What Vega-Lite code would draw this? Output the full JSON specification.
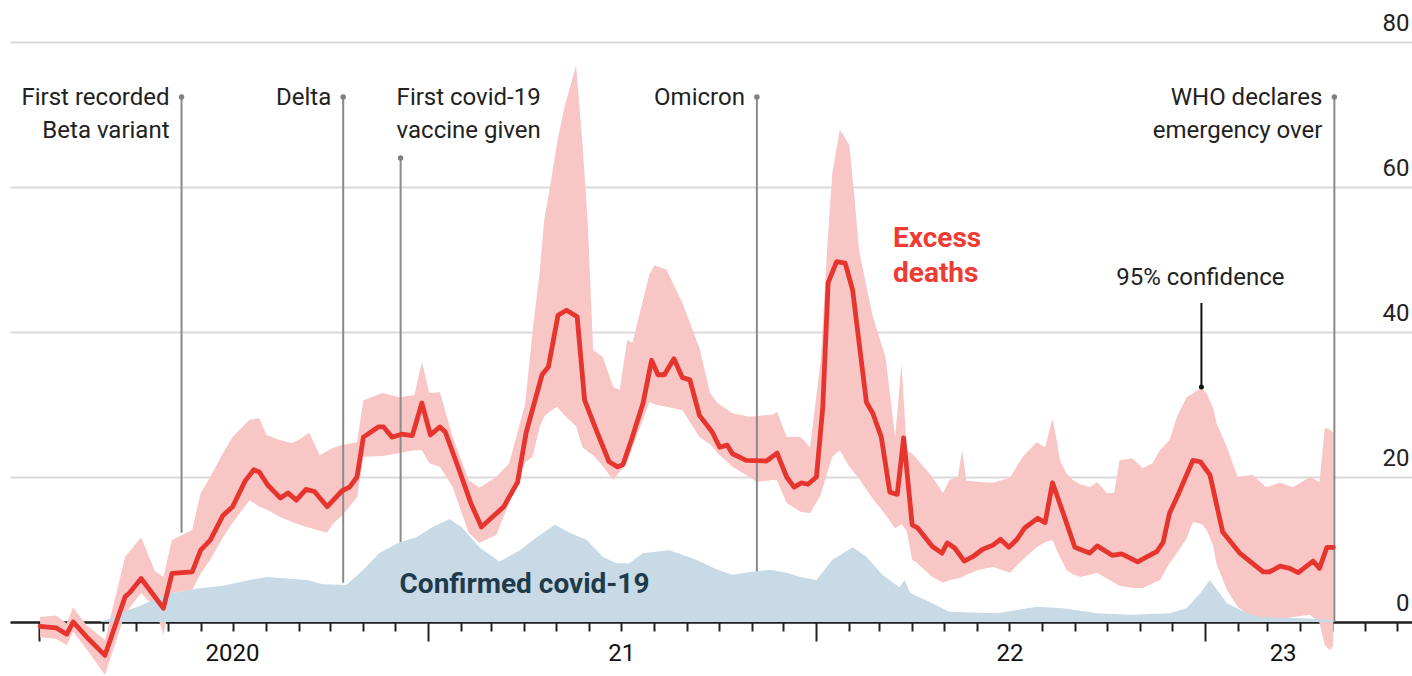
{
  "$schema": "https://vega.github.io/schema/vega-lite/v6.json",
  "width": 1402,
  "height": 676,
  "autosize": {"type": "none"},
  "padding": {"left": 10, "top": 0, "right": 0, "bottom": 0},
  "background": "white",
  "config": {"view": {"stroke": null}, "text": {"font": "Roboto"}},
  "datasets": {
    "excess": [
      {"date": "2020-01-02", "value": -0.6}, {"date": "2020-01-17", "value": -0.8}, {"date": "2020-01-27", "value": -1.7},
      {"date": "2020-02-02", "value": 0.0}, {"date": "2020-02-15", "value": -2.1}, {"date": "2020-03-03", "value": -4.6},
      {"date": "2020-03-22", "value": 3.5}, {"date": "2020-03-26", "value": 4.0}, {"date": "2020-04-06", "value": 6.0},
      {"date": "2020-04-27", "value": 1.9}, {"date": "2020-05-05", "value": 6.7}, {"date": "2020-05-24", "value": 6.9},
      {"date": "2020-06-01", "value": 9.9}, {"date": "2020-06-10", "value": 11.3}, {"date": "2020-06-22", "value": 14.7},
      {"date": "2020-07-01", "value": 15.9}, {"date": "2020-07-13", "value": 19.5}, {"date": "2020-07-21", "value": 21.0},
      {"date": "2020-07-26", "value": 20.7}, {"date": "2020-08-03", "value": 18.9}, {"date": "2020-08-15", "value": 17.1},
      {"date": "2020-08-22", "value": 17.8}, {"date": "2020-08-30", "value": 16.8}, {"date": "2020-09-08", "value": 18.3},
      {"date": "2020-09-16", "value": 18.0}, {"date": "2020-09-28", "value": 15.9}, {"date": "2020-10-12", "value": 18.1},
      {"date": "2020-10-19", "value": 18.6}, {"date": "2020-10-26", "value": 20.0}, {"date": "2020-11-01", "value": 25.5},
      {"date": "2020-11-15", "value": 26.9}, {"date": "2020-11-20", "value": 26.9}, {"date": "2020-11-28", "value": 25.5},
      {"date": "2020-12-07", "value": 25.9}, {"date": "2020-12-17", "value": 25.7}, {"date": "2020-12-26", "value": 30.2},
      {"date": "2021-01-03", "value": 25.8}, {"date": "2021-01-12", "value": 26.9}, {"date": "2021-01-17", "value": 26.2},
      {"date": "2021-01-30", "value": 21.0}, {"date": "2021-02-10", "value": 16.4}, {"date": "2021-02-20", "value": 13.1},
      {"date": "2021-03-01", "value": 14.3}, {"date": "2021-03-13", "value": 15.9}, {"date": "2021-03-26", "value": 19.3},
      {"date": "2021-04-03", "value": 26.1}, {"date": "2021-04-18", "value": 34.1}, {"date": "2021-04-24", "value": 35.2},
      {"date": "2021-05-03", "value": 42.3}, {"date": "2021-05-11", "value": 43.0}, {"date": "2021-05-21", "value": 42.1},
      {"date": "2021-05-28", "value": 30.6}, {"date": "2021-06-09", "value": 26.1}, {"date": "2021-06-20", "value": 22.1},
      {"date": "2021-06-28", "value": 21.4}, {"date": "2021-07-03", "value": 21.7}, {"date": "2021-07-11", "value": 25.1},
      {"date": "2021-07-22", "value": 30.2}, {"date": "2021-07-30", "value": 36.1}, {"date": "2021-08-05", "value": 34.1},
      {"date": "2021-08-11", "value": 34.1}, {"date": "2021-08-20", "value": 36.3}, {"date": "2021-08-28", "value": 33.7},
      {"date": "2021-09-04", "value": 33.4}, {"date": "2021-09-13", "value": 28.5}, {"date": "2021-09-25", "value": 26.2},
      {"date": "2021-10-02", "value": 24.1}, {"date": "2021-10-09", "value": 24.4}, {"date": "2021-10-14", "value": 23.2},
      {"date": "2021-10-27", "value": 22.3}, {"date": "2021-11-15", "value": 22.2}, {"date": "2021-11-25", "value": 23.3},
      {"date": "2021-12-04", "value": 20.0}, {"date": "2021-12-11", "value": 18.6}, {"date": "2021-12-18", "value": 19.2},
      {"date": "2021-12-24", "value": 19.0}, {"date": "2022-01-01", "value": 20.0}, {"date": "2022-01-07", "value": 29.7},
      {"date": "2022-01-12", "value": 46.8}, {"date": "2022-01-20", "value": 49.7}, {"date": "2022-01-28", "value": 49.5},
      {"date": "2022-02-04", "value": 45.8}, {"date": "2022-02-17", "value": 30.3}, {"date": "2022-02-23", "value": 28.8},
      {"date": "2022-03-03", "value": 25.5}, {"date": "2022-03-11", "value": 17.9}, {"date": "2022-03-18", "value": 17.6},
      {"date": "2022-03-24", "value": 25.4}, {"date": "2022-04-01", "value": 13.4}, {"date": "2022-04-06", "value": 13.0},
      {"date": "2022-04-20", "value": 10.4}, {"date": "2022-04-29", "value": 9.5}, {"date": "2022-05-04", "value": 10.9},
      {"date": "2022-05-11", "value": 10.2}, {"date": "2022-05-20", "value": 8.4}, {"date": "2022-05-28", "value": 9.0},
      {"date": "2022-06-06", "value": 10.0}, {"date": "2022-06-16", "value": 10.6}, {"date": "2022-06-23", "value": 11.4},
      {"date": "2022-07-01", "value": 10.3}, {"date": "2022-07-08", "value": 11.3}, {"date": "2022-07-16", "value": 13.0},
      {"date": "2022-07-28", "value": 14.3}, {"date": "2022-08-04", "value": 13.7}, {"date": "2022-08-11", "value": 19.2},
      {"date": "2022-08-21", "value": 15.0}, {"date": "2022-09-01", "value": 10.3}, {"date": "2022-09-08", "value": 9.9},
      {"date": "2022-09-15", "value": 9.5}, {"date": "2022-09-22", "value": 10.5}, {"date": "2022-10-06", "value": 9.2},
      {"date": "2022-10-15", "value": 9.4}, {"date": "2022-10-30", "value": 8.3}, {"date": "2022-11-08", "value": 9.0},
      {"date": "2022-11-17", "value": 9.7}, {"date": "2022-11-23", "value": 11.0}, {"date": "2022-11-29", "value": 15.0},
      {"date": "2022-12-06", "value": 17.2}, {"date": "2022-12-21", "value": 22.3}, {"date": "2022-12-28", "value": 22.1},
      {"date": "2023-01-06", "value": 20.3}, {"date": "2023-01-18", "value": 12.4}, {"date": "2023-02-03", "value": 9.5},
      {"date": "2023-02-25", "value": 6.9}, {"date": "2023-03-03", "value": 6.9}, {"date": "2023-03-13", "value": 7.7},
      {"date": "2023-03-22", "value": 7.4}, {"date": "2023-03-30", "value": 6.8}, {"date": "2023-04-13", "value": 8.4},
      {"date": "2023-04-19", "value": 7.4}, {"date": "2023-04-26", "value": 10.3}, {"date": "2023-05-02", "value": 10.3}
    ],
    "band": [
      {"date": "2020-01-02", "lower": -2.1, "upper": 0.7}, {"date": "2020-01-17", "lower": -2.3, "upper": 0.9},
      {"date": "2020-01-27", "lower": -3.2, "upper": -0.2}, {"date": "2020-02-02", "lower": -1.3, "upper": 2.0},
      {"date": "2020-02-15", "lower": -3.8, "upper": -0.5}, {"date": "2020-03-03", "lower": -7.3, "upper": -2.5},
      {"date": "2020-03-22", "lower": 1.2, "upper": 9.0}, {"date": "2020-04-06", "lower": 4.0, "upper": 11.7},
      {"date": "2020-04-19", "lower": 2.0, "upper": 7.0}, {"date": "2020-04-27", "lower": -1.8, "upper": 6.2},
      {"date": "2020-05-05", "lower": 4.0, "upper": 11.3}, {"date": "2020-05-24", "lower": 4.4, "upper": 12.7},
      {"date": "2020-06-01", "lower": 6.7, "upper": 17.8}, {"date": "2020-06-10", "lower": 8.6, "upper": 20.0},
      {"date": "2020-06-22", "lower": 11.7, "upper": 23.3}, {"date": "2020-07-01", "lower": 13.7, "upper": 25.5},
      {"date": "2020-07-17", "lower": 16.8, "upper": 27.9}, {"date": "2020-07-26", "lower": 15.9, "upper": 28.1},
      {"date": "2020-08-02", "lower": 15.5, "upper": 25.8}, {"date": "2020-08-14", "lower": 14.5, "upper": 25.1},
      {"date": "2020-08-26", "lower": 13.8, "upper": 24.7}, {"date": "2020-09-02", "lower": 13.4, "upper": 25.2},
      {"date": "2020-09-11", "lower": 13.0, "upper": 26.1}, {"date": "2020-09-21", "lower": 12.6, "upper": 23.0},
      {"date": "2020-09-28", "lower": 12.3, "upper": 23.6}, {"date": "2020-10-03", "lower": 13.5, "upper": 24.0},
      {"date": "2020-10-12", "lower": 14.7, "upper": 24.4}, {"date": "2020-10-26", "lower": 17.2, "upper": 24.8},
      {"date": "2020-11-01", "lower": 22.8, "upper": 30.6}, {"date": "2020-11-19", "lower": 22.9, "upper": 31.6},
      {"date": "2020-12-05", "lower": 23.3, "upper": 31.0}, {"date": "2020-12-19", "lower": 23.7, "upper": 31.3},
      {"date": "2020-12-26", "lower": 23.7, "upper": 35.9}, {"date": "2021-01-02", "lower": 21.9, "upper": 31.6},
      {"date": "2021-01-12", "lower": 21.4, "upper": 31.7}, {"date": "2021-01-24", "lower": 18.6, "upper": 25.5},
      {"date": "2021-02-08", "lower": 12.3, "upper": 19.6}, {"date": "2021-02-18", "lower": 10.9, "upper": 18.5},
      {"date": "2021-03-06", "lower": 12.0, "upper": 20.0}, {"date": "2021-03-18", "lower": 16.4, "upper": 21.9},
      {"date": "2021-04-02", "lower": 22.0, "upper": 30.0}, {"date": "2021-04-09", "lower": 22.8, "upper": 39.9},
      {"date": "2021-04-16", "lower": 27.0, "upper": 48.6}, {"date": "2021-04-20", "lower": 28.3, "upper": 55.4},
      {"date": "2021-04-25", "lower": 29.0, "upper": 59.6}, {"date": "2021-05-02", "lower": 29.7, "upper": 66.0},
      {"date": "2021-05-09", "lower": 28.5, "upper": 71.0}, {"date": "2021-05-20", "lower": 27.0, "upper": 76.8},
      {"date": "2021-05-26", "lower": 24.1, "upper": 66.0}, {"date": "2021-05-31", "lower": 23.5, "upper": 55.0},
      {"date": "2021-06-05", "lower": 23.0, "upper": 37.5}, {"date": "2021-06-14", "lower": 21.5, "upper": 36.6},
      {"date": "2021-06-24", "lower": 19.6, "upper": 32.4}, {"date": "2021-06-30", "lower": 20.7, "upper": 32.0},
      {"date": "2021-07-07", "lower": 22.0, "upper": 38.9}, {"date": "2021-07-12", "lower": 24.1, "upper": 38.5},
      {"date": "2021-07-22", "lower": 28.0, "upper": 44.4}, {"date": "2021-07-28", "lower": 30.3, "upper": 48.0},
      {"date": "2021-08-02", "lower": 30.0, "upper": 49.2}, {"date": "2021-08-13", "lower": 29.7, "upper": 48.6},
      {"date": "2021-08-28", "lower": 29.2, "upper": 44.0}, {"date": "2021-09-13", "lower": 25.5, "upper": 37.8},
      {"date": "2021-09-23", "lower": 24.5, "upper": 31.6}, {"date": "2021-09-30", "lower": 23.3, "upper": 30.2},
      {"date": "2021-10-14", "lower": 21.4, "upper": 28.8}, {"date": "2021-10-30", "lower": 20.0, "upper": 28.3},
      {"date": "2021-11-06", "lower": 19.3, "upper": 28.4}, {"date": "2021-11-21", "lower": 19.6, "upper": 28.6},
      {"date": "2021-11-25", "lower": 19.5, "upper": 29.0}, {"date": "2021-12-04", "lower": 16.4, "upper": 25.5},
      {"date": "2021-12-17", "lower": 15.2, "upper": 25.5}, {"date": "2021-12-26", "lower": 15.0, "upper": 24.1},
      {"date": "2022-01-05", "lower": 17.5, "upper": 36.1}, {"date": "2022-01-11", "lower": 20.5, "upper": 51.3},
      {"date": "2022-01-16", "lower": 22.8, "upper": 62.0}, {"date": "2022-01-23", "lower": 23.7, "upper": 67.9},
      {"date": "2022-02-01", "lower": 21.4, "upper": 65.8}, {"date": "2022-02-06", "lower": 20.5, "upper": 58.2},
      {"date": "2022-02-10", "lower": 19.8, "upper": 51.3}, {"date": "2022-02-23", "lower": 17.0, "upper": 42.1},
      {"date": "2022-03-07", "lower": 14.8, "upper": 36.6}, {"date": "2022-03-16", "lower": 12.9, "upper": 25.5},
      {"date": "2022-03-22", "lower": 13.5, "upper": 35.7}, {"date": "2022-03-27", "lower": 12.5, "upper": 23.7},
      {"date": "2022-04-01", "lower": 8.6, "upper": 23.2}, {"date": "2022-04-05", "lower": 8.2, "upper": 22.6},
      {"date": "2022-04-20", "lower": 6.2, "upper": 20.0}, {"date": "2022-04-30", "lower": 5.4, "upper": 17.8},
      {"date": "2022-05-06", "lower": 5.8, "upper": 19.6}, {"date": "2022-05-14", "lower": 6.0, "upper": 20.0},
      {"date": "2022-05-18", "lower": 6.2, "upper": 23.7}, {"date": "2022-05-22", "lower": 6.5, "upper": 19.5},
      {"date": "2022-06-03", "lower": 7.2, "upper": 19.3}, {"date": "2022-06-16", "lower": 7.6, "upper": 19.2},
      {"date": "2022-07-02", "lower": 6.8, "upper": 19.9}, {"date": "2022-07-14", "lower": 8.6, "upper": 22.8},
      {"date": "2022-07-27", "lower": 10.3, "upper": 24.8}, {"date": "2022-08-04", "lower": 11.0, "upper": 24.1},
      {"date": "2022-08-11", "lower": 11.3, "upper": 28.1}, {"date": "2022-08-15", "lower": 9.9, "upper": 25.0},
      {"date": "2022-08-18", "lower": 9.0, "upper": 22.3}, {"date": "2022-08-24", "lower": 7.2, "upper": 20.5},
      {"date": "2022-08-30", "lower": 6.6, "upper": 19.6}, {"date": "2022-09-06", "lower": 6.2, "upper": 19.0},
      {"date": "2022-09-15", "lower": 6.5, "upper": 18.6}, {"date": "2022-09-22", "lower": 6.8, "upper": 19.3},
      {"date": "2022-10-01", "lower": 6.0, "upper": 17.8}, {"date": "2022-10-08", "lower": 5.4, "upper": 17.8},
      {"date": "2022-10-13", "lower": 5.0, "upper": 22.3}, {"date": "2022-10-25", "lower": 4.7, "upper": 22.6},
      {"date": "2022-11-04", "lower": 4.7, "upper": 21.2}, {"date": "2022-11-13", "lower": 5.3, "upper": 21.9},
      {"date": "2022-11-20", "lower": 5.8, "upper": 23.7}, {"date": "2022-11-29", "lower": 8.1, "upper": 25.1},
      {"date": "2022-12-06", "lower": 9.5, "upper": 28.3}, {"date": "2022-12-15", "lower": 11.5, "upper": 31.0},
      {"date": "2022-12-21", "lower": 13.8, "upper": 31.5}, {"date": "2022-12-29", "lower": 13.5, "upper": 32.3},
      {"date": "2023-01-03", "lower": 12.7, "upper": 31.5}, {"date": "2023-01-09", "lower": 10.5, "upper": 29.5},
      {"date": "2023-01-12", "lower": 8.1, "upper": 27.5}, {"date": "2023-01-22", "lower": 4.4, "upper": 24.1},
      {"date": "2023-02-01", "lower": 2.1, "upper": 20.0}, {"date": "2023-02-15", "lower": 0.6, "upper": 20.3},
      {"date": "2023-02-28", "lower": 0.0, "upper": 18.6}, {"date": "2023-03-13", "lower": 0.3, "upper": 19.2},
      {"date": "2023-03-25", "lower": 0.7, "upper": 18.6}, {"date": "2023-04-10", "lower": 1.0, "upper": 20.0},
      {"date": "2023-04-19", "lower": -0.1, "upper": 19.3}, {"date": "2023-04-24", "lower": -3.2, "upper": 26.8},
      {"date": "2023-04-29", "lower": -3.9, "upper": 26.5}, {"date": "2023-05-02", "lower": -3.2, "upper": 26.1}
    ],
    "confirmed": [
      {"date": "2020-01-02", "value": 0}, {"date": "2020-02-27", "value": 0}, {"date": "2020-03-09", "value": 0.5},
      {"date": "2020-03-22", "value": 1.5}, {"date": "2020-04-05", "value": 2.2}, {"date": "2020-04-28", "value": 3.8},
      {"date": "2020-05-28", "value": 4.6}, {"date": "2020-06-22", "value": 5.0}, {"date": "2020-07-17", "value": 5.8},
      {"date": "2020-08-02", "value": 6.2}, {"date": "2020-09-09", "value": 5.8}, {"date": "2020-09-24", "value": 5.2},
      {"date": "2020-10-16", "value": 5.1}, {"date": "2020-11-01", "value": 7.2}, {"date": "2020-11-16", "value": 9.5},
      {"date": "2020-12-05", "value": 11.0}, {"date": "2020-12-21", "value": 11.7}, {"date": "2021-01-05", "value": 13.1},
      {"date": "2021-01-21", "value": 14.2}, {"date": "2021-02-02", "value": 13.0}, {"date": "2021-02-18", "value": 10.3},
      {"date": "2021-03-09", "value": 8.3}, {"date": "2021-03-28", "value": 9.9}, {"date": "2021-04-13", "value": 11.7},
      {"date": "2021-04-30", "value": 13.4}, {"date": "2021-05-14", "value": 12.3}, {"date": "2021-05-30", "value": 11.3},
      {"date": "2021-06-14", "value": 9.0}, {"date": "2021-06-27", "value": 8.1}, {"date": "2021-07-09", "value": 8.1},
      {"date": "2021-07-22", "value": 9.5}, {"date": "2021-08-16", "value": 9.9}, {"date": "2021-09-10", "value": 8.6},
      {"date": "2021-09-30", "value": 7.2}, {"date": "2021-10-14", "value": 6.5}, {"date": "2021-10-30", "value": 6.9},
      {"date": "2021-11-18", "value": 7.2}, {"date": "2021-12-04", "value": 6.8}, {"date": "2021-12-17", "value": 6.2},
      {"date": "2022-01-01", "value": 5.8}, {"date": "2022-01-16", "value": 8.6}, {"date": "2022-02-04", "value": 10.3},
      {"date": "2022-02-17", "value": 9.0}, {"date": "2022-03-04", "value": 6.5}, {"date": "2022-03-20", "value": 4.8},
      {"date": "2022-03-25", "value": 5.8}, {"date": "2022-03-30", "value": 4.0}, {"date": "2022-04-20", "value": 2.6},
      {"date": "2022-05-06", "value": 1.4}, {"date": "2022-06-20", "value": 1.2}, {"date": "2022-07-27", "value": 2.1},
      {"date": "2022-08-21", "value": 1.9}, {"date": "2022-09-22", "value": 1.2}, {"date": "2022-10-23", "value": 1.0},
      {"date": "2022-11-29", "value": 1.2}, {"date": "2022-12-15", "value": 1.9}, {"date": "2022-12-28", "value": 4.0},
      {"date": "2023-01-06", "value": 5.8}, {"date": "2023-01-22", "value": 2.6}, {"date": "2023-02-10", "value": 1.2},
      {"date": "2023-02-22", "value": 0.7}, {"date": "2023-04-19", "value": 0.4}, {"date": "2023-05-02", "value": 0.3}
    ],
    "events": [
      {"event": "Beta", "date": "2020-05-14", "top": 72.4, "bottom": 12.3, "texty": 71.3, "label": "First recorded\nBeta variant"},
      {"event": "Delta", "date": "2020-10-13", "top": 72.4, "bottom": 5.4, "texty": 71.3, "label": "Delta"},
      {"event": "Vaccine", "date": "2020-12-06", "top": 64.0, "bottom": 11.0, "texty": 71.3, "label": "First covid-19\nvaccine given"},
      {"event": "Omicron", "date": "2021-11-06", "top": 72.4, "bottom": 6.8, "texty": 71.3, "label": "Omicron"},
      {"event": "WHO", "date": "2023-05-03", "top": 72.4, "bottom": 0, "texty": 71.3, "label": "WHO declares\nemergency over"}
    ],
    "pointer": [
      {"date": "2022-12-29", "top": 44.0, "bottom": 32.4}
    ],
    "labels": [
      {"series": "excess", "date": "2022-03-14", "value": 51.7, "label": "Excess\ndeaths"},
      {"series": "confirmed", "date": "2020-12-05", "value": 4.0, "label": "Confirmed covid-19"},
      {"series": "band", "date": "2022-12-28", "value": 46.5, "label": "95% confidence"}
    ]
  },
  "encoding": {
    "x": {
      "field": "date",
      "type": "temporal",
      "scale": {
        "type": "utc",
        "domain": [
          {"year": 2019, "month": 12, "date": 4, "hours": 17, "utc": true},
          {"year": 2023, "month": 7, "date": 15, "utc": true}
        ]
      },
      "axis": {
        "title": null,
        "orient": "bottom",
        "offset": -54,
        "grid": false,
        "domain": true,
        "domainColor": "#222222",
        "domainWidth": 2.5,
        "ticks": true,
        "tickColor": "#222222",
        "tickWidth": 2,
        "tickSize": {"condition": {"test": "utcmonth(datum.value) === 0", "value": 19}, "value": 9},
        "tickCount": {"interval": "month", "step": 1},
        "labelExpr": "utcmonth(datum.value) === 0 ? (utcyear(datum.value) === 2020 ? '2020' : utcFormat(datum.value, '%y')) : ''",
        "labelOffset": {"condition": {"test": "utcyear(datum.value) === 2023", "value": 78}, "value": 193},
        "labelPadding": 0,
        "labelAlign": "center",
        "labelBaseline": "top",
        "labelFont": "Roboto",
        "labelFontSize": 24,
        "labelColor": "#111111",
        "labelOverlap": false,
        "labelBound": false,
        "labelFlush": false
      }
    },
    "y": {
      "field": "value",
      "type": "quantitative",
      "scale": {"domain": [-7.45, 85.79], "nice": false, "zero": false},
      "axis": {
        "title": null,
        "orient": "right",
        "values": [0, 20, 40, 60, 80],
        "grid": true,
        "gridColor": "#dadada",
        "gridWidth": 2,
        "domain": false,
        "ticks": false,
        "tickSize": 0,
        "labelAlign": "right",
        "labelBaseline": "alphabetic",
        "labelPadding": -3,
        "labelOffset": -11,
        "labelFont": "Roboto",
        "labelFontSize": 24,
        "labelColor": "#222222"
      }
    }
  },
  "layer": [
    {
      "data": {"name": "band"},
      "mark": {"type": "area", "color": "#f9c6c6", "opacity": 1},
      "encoding": {
        "y": {
          "field": "lower",
          "type": "quantitative",
          "scale": {"domain": [-7.45, 85.79], "nice": false, "zero": false},
          "axis": {
            "title": null,
            "orient": "right",
            "values": [0, 20, 40, 60, 80],
            "grid": true,
            "gridColor": "#dadada",
            "gridWidth": 2,
            "domain": false,
            "ticks": false,
            "tickSize": 0,
            "labelAlign": "right",
            "labelBaseline": "alphabetic",
            "labelPadding": -3,
            "labelOffset": -11,
            "labelFont": "Roboto",
            "labelFontSize": 24,
            "labelColor": "#222222"
          }
        },
        "y2": {"field": "upper"}
      }
    },
    {
      "data": {"name": "events"},
      "mark": {"type": "rule", "color": "#8a8a8a", "strokeWidth": 2},
      "encoding": {
        "y": {"field": "top", "type": "quantitative", "scale": {"domain": [-7.45, 85.79], "nice": false, "zero": false}, "axis": {"title": null}},
        "y2": {"field": "bottom"}
      }
    },
    {
      "data": {"name": "confirmed"},
      "mark": {"type": "area", "color": "#c8dae6", "opacity": 1}
    },
    {
      "data": {"name": "excess"},
      "mark": {"type": "line", "color": "#e6352e", "strokeWidth": 4.8, "strokeJoin": "round", "strokeCap": "round"}
    },
    {
      "data": {"name": "events"},
      "mark": {"type": "point", "filled": true, "color": "#7f7f7f", "size": 30, "opacity": 1},
      "encoding": {
        "y": {"field": "top", "type": "quantitative", "scale": {"domain": [-7.45, 85.79], "nice": false, "zero": false}, "axis": {"title": null}}
      }
    },
    {
      "data": {"name": "pointer"},
      "mark": {"type": "rule", "color": "#111111", "strokeWidth": 2},
      "encoding": {
        "y": {"field": "top", "type": "quantitative", "scale": {"domain": [-7.45, 85.79], "nice": false, "zero": false}, "axis": {"title": null}},
        "y2": {"field": "bottom"}
      }
    },
    {
      "data": {"name": "pointer"},
      "mark": {"type": "point", "filled": true, "color": "#111111", "size": 25, "opacity": 1},
      "encoding": {
        "y": {"field": "bottom", "type": "quantitative", "scale": {"domain": [-7.45, 85.79], "nice": false, "zero": false}, "axis": {"title": null}}
      }
    },
    {
      "data": {"name": "events"},
      "transform": [{"filter": "datum.event !== 'Vaccine'"}],
      "mark": {"type": "text", "align": "right", "baseline": "alphabetic", "dx": -12, "font": "Roboto", "fontSize": 24, "color": "#222222", "lineBreak": "\n", "lineHeight": 33},
      "encoding": {
        "y": {"field": "texty", "type": "quantitative", "scale": {"domain": [-7.45, 85.79], "nice": false, "zero": false}, "axis": {"title": null}},
        "text": {"field": "label"}
      }
    },
    {
      "data": {"name": "events"},
      "transform": [{"filter": "datum.event === 'Vaccine'"}],
      "mark": {"type": "text", "align": "left", "baseline": "alphabetic", "dx": -4, "font": "Roboto", "fontSize": 24, "color": "#222222", "lineBreak": "\n", "lineHeight": 33},
      "encoding": {
        "y": {"field": "texty", "type": "quantitative", "scale": {"domain": [-7.45, 85.79], "nice": false, "zero": false}, "axis": {"title": null}},
        "text": {"field": "label"}
      }
    },
    {
      "data": {"name": "labels"},
      "transform": [{"filter": "datum.series === 'band'"}],
      "mark": {"type": "text", "align": "center", "baseline": "alphabetic", "font": "Roboto", "fontSize": 24, "color": "#222222"},
      "encoding": {
        "text": {"field": "label"}
      }
    },
    {
      "data": {"name": "labels"},
      "transform": [{"filter": "datum.series === 'excess'"}],
      "mark": {"type": "text", "align": "left", "baseline": "alphabetic", "font": "Roboto", "fontSize": 28, "fontWeight": "bold", "color": "#ee3b34", "lineBreak": "\n", "lineHeight": 35},
      "encoding": {
        "text": {"field": "label"}
      }
    },
    {
      "data": {"name": "labels"},
      "transform": [{"filter": "datum.series === 'confirmed'"}],
      "mark": {"type": "text", "align": "left", "baseline": "alphabetic", "font": "Roboto", "fontSize": 28, "fontWeight": "bold", "color": "#1f3a4a"},
      "encoding": {
        "text": {"field": "label"}
      }
    }
  ]
}
